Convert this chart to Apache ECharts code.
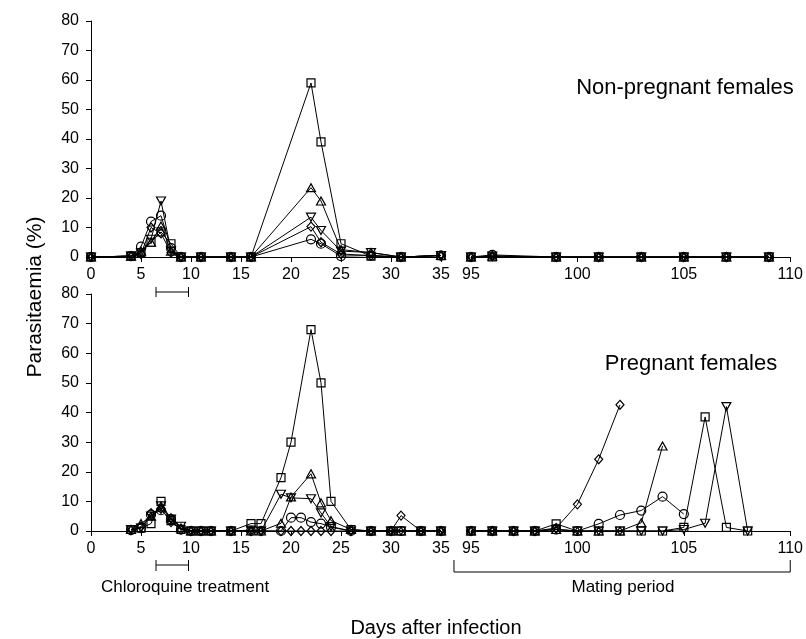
<!DOCTYPE html>
<html>
<head>
<meta charset="utf-8">
<script src="https://cdn.jsdelivr.net/npm/echarts@6/dist/echarts.min.js"></script>
<style>
  html, body { margin: 0; padding: 0; background: #fff; }
  #chart { width: 806px; height: 639px; }
</style>
</head>
<body>
<div id="chart"></div>
<script>
// ---- Non-pregnant females: days 0-35 ----
const topDaysA      = [0, 4, 5, 6, 7, 8, 9, 11, 14, 16, 22, 23, 25, 28, 31, 35];
const topSquareA    = [0, 0.3, 1.5, 5, 8.5, 4.5, 0, 0, 0, 0, 59, 39, 4.5, 0.3, 0, 0.5];
const topCircleA    = [0, 0.3, 3.5, 12, 14, 3, 0, 0, 0, 0, 6, 4.5, 0.3, 0.5, 0, 0.5];
const topTriUpA     = [0, 0.3, 2, 5, 10.5, 2, 0, 0, 0, 0, 23.5, 19, 2.5, 1.5, 0, 0.5];
const topTriDownA   = [0, 0.3, 1.5, 6, 19, 2, 0, 0, 0, 0, 13.5, 9, 2, 1.5, 0, 0.5];
const topDiamondA   = [0, 0.3, 1, 10, 8, 1.5, 0, 0, 0, 0, 10.3, 5, 1, 0.5, 0, 0.5];

// ---- Non-pregnant females: days 95-110 ----
const topDaysB      = [95, 96, 99, 101, 103, 105, 107, 109];
const topSquareB    = [0, 0, 0, 0, 0, 0, 0, 0];
const topCircleB    = [0, 0.7, 0, 0, 0, 0, 0, 0];
const topTriUpB     = [0, 0.3, 0, 0, 0, 0, 0, 0];
const topTriDownB   = [0, 0.3, 0, 0, 0, 0, 0, 0];
const topDiamondB   = [0, 0.3, 0, 0, 0, 0, 0, 0];

// ---- Pregnant females: days 0-35 (null = not sampled) ----
const botDaysA      = [4, 5, 6, 7, 8, 9, 10, 11, 12, 14, 16, 17, 19, 20, 21, 22, 23, 24, 26, 28, 30, 31, 33, 35];
const botSquareA    = [0.5, 1, 2.5, 10, 3.5, 0.5, 0, 0, 0, 0, 2.5, 2.5, 18, 30, null, 68, 50, 10, 0.5, 0, 0, 0, 0, 0];
const botCircleA    = [0.3, 1, 5.5, 7, 4, 0.5, 0, 0, 0, 0, 0, 0, 0, 4.5, 4.5, 3, 2.5, 1.3, 0, 0, 0, 0, 0, 0];
const botTriUpA     = [0.5, 2.5, 5, 8, 4.5, 1, 0, 0, 0, 0, 0, 0, 2.6, 11.5, null, 19.3, 9.5, 3.5, 0.5, 0, 0, 0, 0, 0];
const botTriDownA   = [0.5, 1, 5, 8.5, 4, 1.6, 0, 0, 0, 0, 0.3, 0, 12.4, 11.2, null, 10.9, 6.1, 1.5, 0, 0, 0, 0, 0, 0];
const botDiamondA   = [0.3, 1.5, 6, 7.5, 3, 0.5, 0, 0, 0, 0, 0, 0, 0, 0, 0, 0, 0, 0, 0, 0, 0, 5.2, 0, 0];

// ---- Pregnant females: days 95-110 (mating period) ----
const botDaysB      = [95, 96, 97, 98, 99, 100, 101, 102, 103, 104, 105, 106, 107, 108];
const botSquareB    = [0, 0, 0, 0, 2.4, 0, 0, 0, 0, 0, 1.2, 38.5, 1.2, 0];
const botCircleB    = [0, 0, 0, 0, 0.5, 0, 2.4, 5.4, 6.9, 11.6, 5.7, null, null, null];
const botTriUpB     = [0, 0, 0, 0, 0.5, 0, 0, 0, 2.8, 28.7, null, null, null, null];
const botTriDownB   = [0, 0, 0, 0, 0.5, 0, 0, 0, 0, 0, 0.5, 2.6, 42, 0];
const botDiamondB   = [0, 0, 0, 0, 1, 9, 24.2, 42.6, null, null, null, null, null, null];

// ---- Axis ticks / annotations ----
const yTicks          = { min: 0, max: 80, interval: 10 };
const earlyRange      = { min: 0, max: 35, interval: 5 };
const lateRange       = { min: 95, max: 110, interval: 5 };
const chloroquineDays = [6.5, 9.75];
const matingDays      = [94.2, 110];

const FONT = '"Liberation Sans", Arial, Helvetica, sans-serif';

const chart = echarts.init(document.getElementById('chart'), null, { renderer: 'canvas' });

const grids = [
  { left: 91,  top: 21,  width: 350, height: 236 },
  { left: 471, top: 21,  width: 320, height: 236 },
  { left: 91,  top: 294, width: 350, height: 237 },
  { left: 471, top: 294, width: 320, height: 237 }
];

function xAxis(gridIndex, range) {
  return {
    type: 'value', gridIndex, min: range.min, max: range.max, interval: range.interval,
    axisLine: { show: true, onZero: false, lineStyle: { color: '#000', width: 1 } },
    axisTick: { show: true, inside: false, length: 5, lineStyle: { color: '#000', width: 1 } },
    axisLabel: { show: true, color: '#000', fontSize: 16, fontFamily: FONT, margin: 10 },
    splitLine: { show: false }
  };
}

function yAxis(gridIndex, visible) {
  return {
    type: 'value', gridIndex, min: yTicks.min, max: yTicks.max, interval: yTicks.interval,
    show: visible,
    axisLine: { show: true, lineStyle: { color: '#000', width: 1 } },
    axisTick: { show: true, inside: false, length: 5, lineStyle: { color: '#000', width: 1 } },
    axisLabel: { show: true, color: '#000', fontSize: 16, fontFamily: FONT, margin: 12 },
    splitLine: { show: false }
  };
}

const markerStyles = {
  square:  { symbol: 'rect', symbolSize: 8, symbolRotate: 0 },
  circle:  { symbol: 'circle', symbolSize: 9, symbolRotate: 0 },
  triUp:   { symbol: 'triangle', symbolSize: [9, 8], symbolRotate: 0 },
  triDown: { symbol: 'triangle', symbolSize: [9, 8], symbolRotate: 180 },
  diamond: { symbol: 'diamond', symbolSize: [8, 9], symbolRotate: 0 }
};

// Open (unfilled) markers joined by thin black lines
function lineSeries(name, gridIndex, days, values, marker) {
  const m = markerStyles[marker];
  const data = days.map((d, i) => [d, values[i]]).filter(p => p[1] !== null);
  return {
    name, type: 'line', xAxisIndex: gridIndex, yAxisIndex: gridIndex,
    data,
    symbol: m.symbol, symbolSize: m.symbolSize, symbolRotate: m.symbolRotate,
    showSymbol: true, showAllSymbol: true,
    lineStyle: { color: '#000', width: 1 },
    itemStyle: { color: 'rgba(255,255,255,0)', borderColor: '#000', borderWidth: 1.2 },
    emphasis: { disabled: true },
    animation: false
  };
}

const series = [
  lineSeries('Mouse 1', 0, topDaysA, topSquareA, 'square'),
  lineSeries('Mouse 2', 0, topDaysA, topCircleA, 'circle'),
  lineSeries('Mouse 3', 0, topDaysA, topTriUpA, 'triUp'),
  lineSeries('Mouse 4', 0, topDaysA, topTriDownA, 'triDown'),
  lineSeries('Mouse 5', 0, topDaysA, topDiamondA, 'diamond'),

  lineSeries('Mouse 1', 1, topDaysB, topSquareB, 'square'),
  lineSeries('Mouse 2', 1, topDaysB, topCircleB, 'circle'),
  lineSeries('Mouse 3', 1, topDaysB, topTriUpB, 'triUp'),
  lineSeries('Mouse 4', 1, topDaysB, topTriDownB, 'triDown'),
  lineSeries('Mouse 5', 1, topDaysB, topDiamondB, 'diamond'),

  lineSeries('Mouse 6', 2, botDaysA, botSquareA, 'square'),
  lineSeries('Mouse 7', 2, botDaysA, botCircleA, 'circle'),
  lineSeries('Mouse 8', 2, botDaysA, botTriUpA, 'triUp'),
  lineSeries('Mouse 9', 2, botDaysA, botTriDownA, 'triDown'),
  lineSeries('Mouse 10', 2, botDaysA, botDiamondA, 'diamond'),

  lineSeries('Mouse 6', 3, botDaysB, botSquareB, 'square'),
  lineSeries('Mouse 7', 3, botDaysB, botCircleB, 'circle'),
  lineSeries('Mouse 8', 3, botDaysB, botTriUpB, 'triUp'),
  lineSeries('Mouse 9', 3, botDaysB, botTriDownB, 'triDown'),
  lineSeries('Mouse 10', 3, botDaysB, botDiamondB, 'diamond')
];

chart.setOption({
  backgroundColor: '#fff',
  animation: false,
  grid: grids,
  xAxis: [xAxis(0, earlyRange), xAxis(1, lateRange), xAxis(2, earlyRange), xAxis(3, lateRange)],
  yAxis: [yAxis(0, true), yAxis(1, false), yAxis(2, true), yAxis(3, false)],
  series
});

// Brackets marking the treatment and mating periods, placed on the day scale
function bracket(x0, x1, y, tickUp, tickDown) {
  const style = { stroke: '#000', lineWidth: 1 };
  return [
    { type: 'line', shape: { x1: x0, y1: y, x2: x1, y2: y }, style, silent: true },
    { type: 'line', shape: { x1: x0, y1: y - tickUp, x2: x0, y2: y + tickDown }, style, silent: true },
    { type: 'line', shape: { x1: x1, y1: y - tickUp, x2: x1, y2: y + tickDown }, style, silent: true }
  ];
}

function text(str, x, y, size, opts) {
  return Object.assign({
    type: 'text', silent: true, x, y,
    style: { text: str, fill: '#000', font: size + 'px ' + FONT, align: 'center', verticalAlign: 'middle' }
  }, opts || {});
}

const cqTop0 = chart.convertToPixel({ xAxisIndex: 0 }, chloroquineDays[0]);
const cqTop1 = chart.convertToPixel({ xAxisIndex: 0 }, chloroquineDays[1]);
const cqBot0 = chart.convertToPixel({ xAxisIndex: 2 }, chloroquineDays[0]);
const cqBot1 = chart.convertToPixel({ xAxisIndex: 2 }, chloroquineDays[1]);
const mat0 = chart.convertToPixel({ xAxisIndex: 3 }, matingDays[0]);
const mat1 = chart.convertToPixel({ xAxisIndex: 3 }, matingDays[1]);

const graphics = []
  .concat(bracket(cqTop0, cqTop1, 292, 5, 5))
  .concat(bracket(cqBot0, cqBot1, 565, 5, 6))
  .concat(bracket(mat0, mat1, 572, 12, 0))
  .concat([
    text('Non-pregnant females', 685, 88, 22),
    text('Pregnant females', 691, 364, 22),
    text('Chloroquine treatment', 185, 587, 17),
    text('Mating period', 623, 587, 17),
    text('Days after infection', 436, 628, 20),
    text('Parasitaemia (%)', 35, 297, 21, { rotation: Math.PI / 2 })
  ]);

chart.setOption({ graphic: graphics });
</script>
</body>
</html>
